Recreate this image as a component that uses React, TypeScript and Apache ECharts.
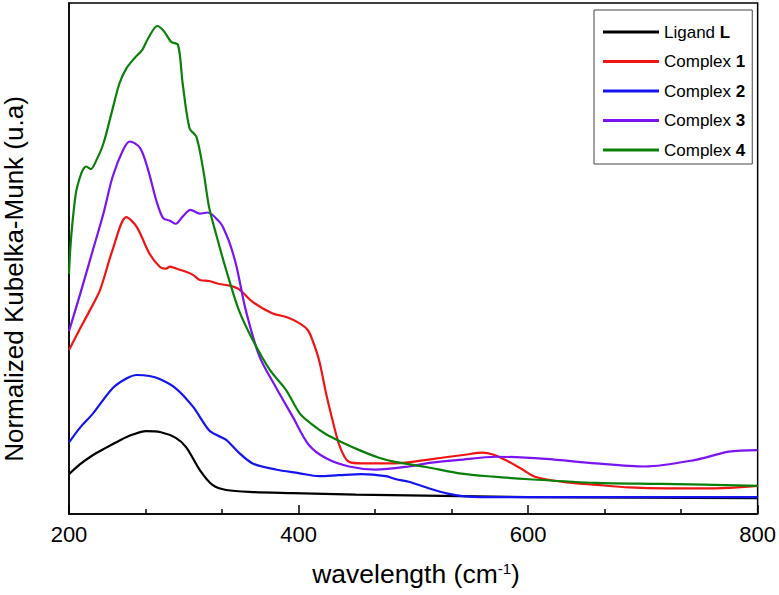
import React, { useEffect, useRef } from "react";
import * as echarts from "echarts";

const FONT = "'Liberation Sans', Arial, Helvetica, sans-serif";

const seriesNames = ["Ligand L", "Complex 1", "Complex 2", "Complex 3", "Complex 4"];
const seriesColors = ["#000000", "#f01414", "#1414f0", "#7a14f0", "#0a800a"];

const ligandX = [200, 210, 220, 230, 245, 255, 267, 280, 293, 302, 314, 325, 337, 360, 395, 450, 540, 600, 700, 800];
const ligandY = [7.8, 9.8, 11.4, 12.7, 14.5, 15.5, 16.2, 16.0, 14.9, 13.1, 8.6, 5.7, 4.7, 4.3, 4.1, 3.8, 3.5, 3.3, 3.2, 3.1];

const complex1X = [200, 209, 218, 227, 238, 250, 259, 270, 279, 284, 288, 295, 302, 308, 314, 322, 331, 340, 348, 360, 377, 390, 401, 408, 412, 418, 424, 430, 435, 440, 444, 455, 467, 480, 499, 528, 545, 560, 570, 580, 593, 606, 630, 660, 688, 720, 746, 775, 800];
const complex1Y = [32.1, 36.0, 39.8, 43.8, 51.7, 58.1, 56.2, 51.0, 48.4, 48.0, 48.4, 47.9, 47.4, 46.8, 45.8, 45.6, 45.0, 44.7, 44.0, 41.5, 39.3, 38.5, 37.3, 36.0, 34.1, 30.0, 23.6, 18.0, 13.8, 11.2, 10.2, 9.9, 9.9, 9.9, 10.2, 11.1, 11.6, 12.0, 11.6, 10.6, 9.0, 7.3, 6.3, 5.7, 5.2, 5.0, 5.0, 5.1, 5.5];

const complex2X = [200, 210, 221, 238, 250, 259, 270, 279, 293, 308, 322, 330, 337, 348, 360, 380, 400, 418, 435, 455, 476, 485, 496, 514, 530, 543, 560, 600, 700, 800];
const complex2Y = [14.0, 17.0, 19.7, 24.6, 26.5, 27.2, 27.0, 26.4, 24.6, 21.0, 16.4, 15.3, 14.5, 12.0, 9.9, 8.7, 8.0, 7.4, 7.6, 7.8, 7.4, 6.8, 6.3, 5.0, 4.0, 3.5, 3.3, 3.3, 3.3, 3.3];

const complex3X = [200, 209, 221, 230, 238, 247, 253, 262, 269, 276, 282, 288, 293, 299, 306, 314, 321, 331, 334, 340, 346, 354, 366, 380, 395, 409, 424, 444, 467, 496, 514, 540, 572, 615, 659, 702, 746, 775, 800];
const complex3Y = [35.8, 42.5, 51.8, 58.8, 66.0, 71.2, 72.9, 71.6, 67.3, 61.4, 57.9, 57.4, 56.8, 58.2, 59.5, 58.8, 59.0, 57.2, 56.2, 53.0, 48.4, 39.9, 30.8, 24.9, 19.0, 13.5, 10.9, 9.3, 8.7, 9.3, 10.0, 10.6, 11.2, 10.8, 9.9, 9.3, 10.6, 12.2, 12.5];

const complex4X = [200, 201, 203, 206, 209, 212, 215, 219, 224, 230, 237, 244, 250, 257, 264, 269, 277, 283, 289, 295, 299, 305, 311, 317, 322, 328, 337, 348, 360, 375, 389, 401, 412, 424, 440, 453, 470, 484, 511, 542, 570, 601, 659, 717, 800];
const complex4Y = [47.0, 51.5, 57.0, 62.8, 65.5, 67.3, 68.0, 67.5, 69.3, 72.5, 78.4, 84.3, 87.2, 89.2, 90.9, 93.1, 95.5, 94.4, 92.4, 91.8, 84.3, 75.5, 73.8, 67.3, 60.1, 54.9, 47.7, 39.9, 34.1, 28.2, 24.3, 19.7, 17.5, 15.6, 13.8, 12.5, 11.0, 10.2, 9.2, 7.9, 7.3, 6.8, 6.1, 5.9, 5.5];

const xValues = [ligandX, complex1X, complex2X, complex3X, complex4X];
const yValues = [ligandY, complex1Y, complex2Y, complex3Y, complex4Y];

const xMin = 200;
const xMax = 800;
const xInterval = 200;

const xTitleMain = "wavelength (cm";
const xTitleSup = "-1";
const xTitleEnd = ")";
const yTitle = "Normalized Kubelka-Munk (u.a)";

export default function App() {
  const ref = useRef<HTMLDivElement>(null);

  useEffect(() => {
    if (!ref.current) return;
    const chart = echarts.init(ref.current, undefined, { renderer: "svg" });

    const series = seriesNames.map((name, i) => ({
      name,
      type: "line",
      data: xValues[i].map((x, j) => [x, yValues[i][j]]),
      showSymbol: false,
      symbol: "none",
      smooth: 0.3,
      lineStyle: { color: seriesColors[i], width: 2.2 },
      itemStyle: { color: seriesColors[i] },
      z: 2 + i,
    }));

    // x title pieces (Arial-compatible metrics)
    const mainSize = 26.5;
    const supSize = 15;
    const mainW = 7.002 * mainSize;
    const supW = 0.889 * supSize;
    const endW = 0.333 * mainSize;
    const totalW = mainW + supW + endW;
    const startX = 416 - totalW / 2;

    const txt = (text: string, x: number, y: number, size: number) => ({
      type: "text",
      x,
      y,
      z: 10,
      style: {
        text,
        fill: "#000",
        fontSize: size,
        fontFamily: FONT,
        align: "left",
        verticalAlign: "middle",
        textAlign: "left",
        textVerticalAlign: "middle",
      },
    });

    chart.setOption({
      animation: false,
      textStyle: { fontFamily: FONT },
      grid: {
        left: 69,
        right: 19,
        top: 3,
        bottom: 81,
        show: true,
        borderColor: "#000",
        borderWidth: 1.5,
        backgroundColor: "transparent",
      },
      xAxis: {
        type: "value",
        min: xMin,
        max: xMax,
        interval: xInterval,
        axisLine: { show: true, lineStyle: { color: "#000", width: 1.5 } },
        axisTick: { show: true, inside: true, length: 9, lineStyle: { color: "#000", width: 1.5 } },
        minorTick: { show: true, splitNumber: 3, length: 5, lineStyle: { color: "#000", width: 1.5 } },
        splitLine: { show: false },
        minorSplitLine: { show: false },
        axisLabel: { color: "#000", fontSize: 22, fontFamily: FONT, margin: 9 },
      },
      yAxis: {
        type: "value",
        min: 0,
        max: 100,
        axisLine: { show: true, lineStyle: { color: "#000", width: 1.5 } },
        axisTick: { show: false },
        axisLabel: { show: false },
        splitLine: { show: false },
      },
      legend: {
        data: seriesNames,
        orient: "vertical",
        left: 594,
        top: 10,
        icon: "rect",
        itemWidth: 56,
        itemHeight: 3,
        itemGap: 12.5,
        padding: [13.5, 7, 5.5, 9],
        borderColor: "#444",
        borderWidth: 1,
        backgroundColor: "#fff",
        formatter: (name: string) => {
          const k = name.lastIndexOf(" ");
          return name.slice(0, k + 1) + "{b|" + name.slice(k + 1) + "}";
        },
        textStyle: {
          color: "#000",
          fontSize: 17,
          lineHeight: 17,
          fontFamily: FONT,
          rich: {
            b: { fontSize: 17, lineHeight: 17, fontWeight: "bold", color: "#000", fontFamily: FONT },
          },
        },
      },
      graphic: [
        txt(xTitleMain, startX, 574, mainSize),
        txt(xTitleSup, startX + mainW, 568.5, supSize),
        txt(xTitleEnd, startX + mainW + supW, 574, mainSize),
        {
          type: "text",
          x: 14,
          y: 279,
          rotation: Math.PI / 2,
          z: 10,
          style: {
            text: yTitle,
            fill: "#000",
            fontSize: 26,
            fontFamily: FONT,
            align: "center",
            verticalAlign: "middle",
            textAlign: "center",
            textVerticalAlign: "middle",
          },
        },
      ],
      series,
    });

    return () => chart.dispose();
  }, []);

  return (
    <div
      ref={ref}
      style={{ position: "absolute", left: 0, top: 0, width: 779, height: 595, background: "#fff" }}
    />
  );
}
